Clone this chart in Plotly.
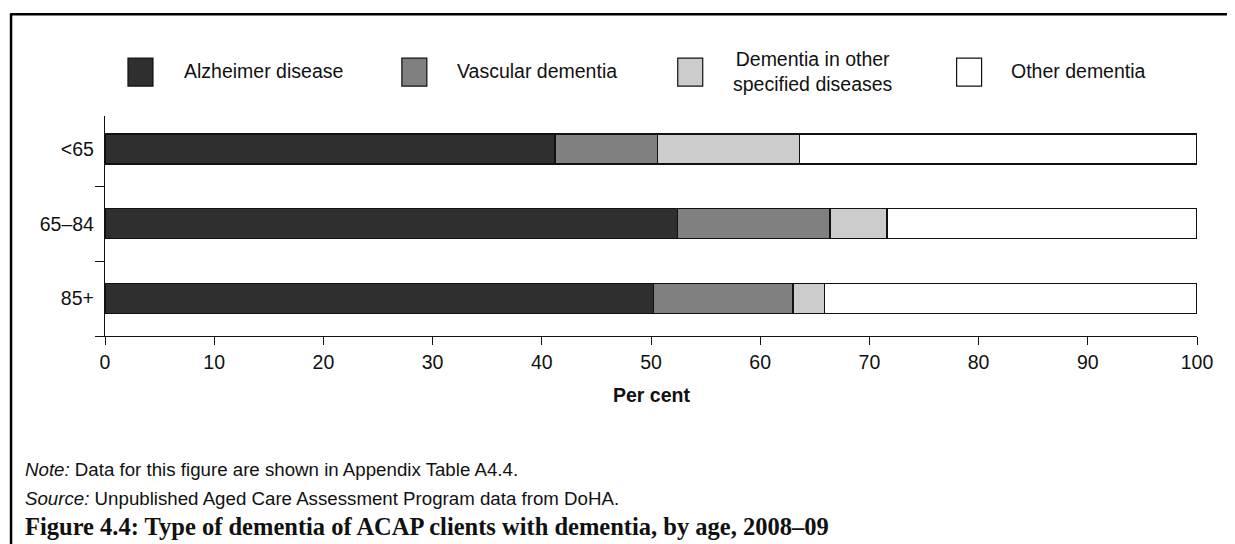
import plotly.graph_objects as go

# ---- data ----
ages = ["<65", "65–84", "85+"]
series_names = ["Alzheimer disease", "Vascular dementia",
                "Dementia in other specified diseases", "Other dementia"]
legend_labels = ["Alzheimer disease", "Vascular dementia",
                 "Dementia in other<br>specified diseases", "Other dementia"]
alzheimer = [41.2, 52.4, 50.2]
vascular = [9.4, 14.0, 12.8]
other_specified = [13.0, 5.2, 2.9]
other_dementia = [36.4, 28.4, 34.1]
series_values = [alzheimer, vascular, other_specified, other_dementia]
colors = ["#2f2f2f", "#808080", "#cccccc", "#ffffff"]
x_ticks = list(range(0, 101, 10))
note_text = "<i>Note:</i> Data for this figure are shown in Appendix Table A4.4."
source_text = "<i>Source:</i> Unpublished Aged Care Assessment Program data from DoHA."
fig_title = "Figure 4.4: Type of dementia of ACAP clients with dementia, by age, 2008–09"

# ---- geometry (screen pixels; page body has an 8px offset) ----
OFF = 8
SW, SH = 1235, 544
W, H = SW - OFF, SH - OFF
L, R, T, B = 105, 1197.5, 116, 336.5
def px(x):
    return (x - L) / (R - L)
def py(y):
    return (B - y) / (B - T)

SANS = "Liberation Sans, Arial, sans-serif"

fig = go.Figure()
for name, vals, col in zip(series_names, series_values, colors):
    fig.add_trace(go.Bar(
        y=ages, x=vals, name=name, orientation="h",
        marker=dict(color=col, line=dict(color="#111111", width=1.3)),
        width=0.4, showlegend=False,
    ))

shapes = []
annotations = []

# legend (manual)
box_left = [128, 402, 678, 957]
text_left = [182, 455, 731, 1009]
for i, (lab, col) in enumerate(zip(legend_labels, colors)):
    shapes.append(dict(type="rect", xref="paper", yref="paper",
                       x0=px(box_left[i]), x1=px(box_left[i] + 25),
                       y0=py(86), y1=py(58),
                       fillcolor=col, line=dict(color="#111111", width=1.2)))
    if "<br>" in lab:
        annotations.append(dict(xref="paper", yref="paper", x=px(813), y=py(71),
                                xanchor="center", yanchor="middle", text=lab,
                                showarrow=False, align="center",
                                font=dict(family=SANS, size=19.5, color="#111111")))
    else:
        annotations.append(dict(xref="paper", yref="paper", x=px(text_left[i]), y=py(71),
                                xanchor="left", yanchor="middle", text=lab,
                                showarrow=False,
                                font=dict(family=SANS, size=19.5, color="#111111")))

# frame lines (top and left)
shapes.append(dict(type="line", xref="paper", yref="paper",
                   x0=px(11), x1=px(1240), y0=py(14), y1=py(14),
                   line=dict(color="black", width=2.5)))
shapes.append(dict(type="line", xref="paper", yref="paper",
                   x0=px(11), x1=px(11), y0=py(13), y1=py(550),
                   line=dict(color="black", width=2.5)))

# axis title
annotations.append(dict(xref="paper", yref="paper", x=0.5, y=py(396),
                        xanchor="center", yanchor="middle", text="<b>Per cent</b>",
                        showarrow=False, font=dict(family=SANS, size=19.5, color="#111111")))
# note / source / figure title
annotations.append(dict(xref="paper", yref="paper", x=px(23), y=py(470),
                        xanchor="left", yanchor="middle", text=note_text,
                        showarrow=False, font=dict(family=SANS, size=18.7, color="#111111")))
annotations.append(dict(xref="paper", yref="paper", x=px(23), y=py(499),
                        xanchor="left", yanchor="middle", text=source_text,
                        showarrow=False, font=dict(family=SANS, size=18.7, color="#111111")))
annotations.append(dict(xref="paper", yref="paper", x=px(23), y=py(527),
                        xanchor="left", yanchor="middle", text="<b>" + fig_title + "</b>",
                        showarrow=False,
                        font=dict(family="Liberation Serif, Times New Roman, serif", size=24.5, color="#111111")))

fig.update_layout(
    width=W, height=H,
    margin=dict(l=L - OFF, r=SW - R, t=T - OFF, b=SH - B, pad=0),
    barmode="stack",
    plot_bgcolor="white", paper_bgcolor="white",
    font=dict(family=SANS, size=19.5, color="#111111"),
    shapes=shapes, annotations=annotations,
    xaxis=dict(range=[0, 100], tickvals=x_ticks, ticks="outside", ticklen=8,
               tickcolor="#111111", showline=True, linecolor="#111111", linewidth=1.3,
               showgrid=False, zeroline=False, fixedrange=True),
    yaxis=dict(type="category", categoryorder="array", categoryarray=ages[::-1],
               range=[-0.5, 2.44], ticks="outside", ticklen=9, tickson="boundaries",
               ticklabelstandoff=6,
               tickcolor="#111111", showline=True, linecolor="#111111", linewidth=1.3,
               showgrid=False, zeroline=False, fixedrange=True),
)

fig.write_html("out.html")
